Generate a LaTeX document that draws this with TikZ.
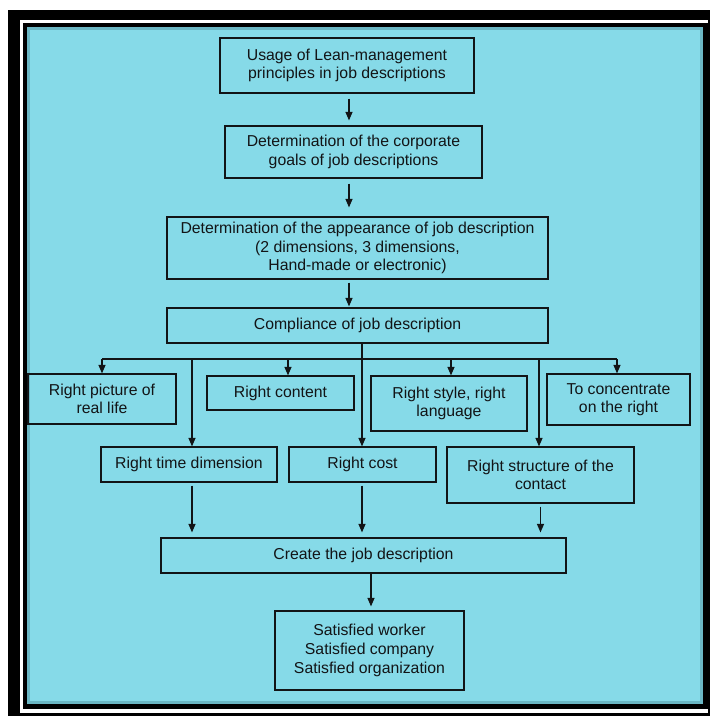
\documentclass[tikz,border=0pt]{standalone}
\usepackage{fontspec}
\setmainfont{Liberation Sans}
\usetikzlibrary{arrows.meta}
\definecolor{bgcyan}{RGB}{134,218,232}
\definecolor{edgecyan}{RGB}{90,160,172}
\definecolor{ink}{RGB}{18,20,22}
\begin{document}
\begin{tikzpicture}[x=1pt,y=-1pt,
  box/.style={draw=ink, line width=1.2pt, align=center, inner sep=0pt,
    font=\fontsize{15.8}{18.6}\selectfont, text=ink},
  arr/.style={draw=ink, line width=1.2pt, -{Triangle[length=8.5pt,width=7pt]}},
  ln/.style={draw=ink, line width=1.2pt}]
\useasboundingbox (0,0) rectangle (710,716);
% frame
\fill[black] (8,10) rectangle (720,730);
\fill[white] (20,20) rectangle (708,713);
\fill[black] (23,23) rectangle (720,709);
\fill[bgcyan] (27,27) rectangle (703,704);
\draw[edgecyan, line width=3pt, opacity=0.6] (28.5,28.5) rectangle (701.5,702.5);
% boxes
\node[box, minimum width=254pt, minimum height=55pt] (b1) at (347,65.5)
  {Usage of Lean-management\\principles in job descriptions};
\node[box, minimum width=257pt, minimum height=52pt] (b2) at (353.5,152)
  {Determination of the corporate\\goals of job descriptions};
\node[box, minimum width=381pt, minimum height=62pt] (b3) at (357.5,248)
  {Determination of the appearance of job description\\(2 dimensions, 3 dimensions,\\Hand-made or electronic)};
\node[box, minimum width=381pt, minimum height=35pt] (b4) at (357.5,325.5)
  {Compliance of job description};
\node[box, minimum width=148pt, minimum height=50pt] (r1) at (102,399)
  {Right picture of\\real life};
\node[box, minimum width=147pt, minimum height=34pt] (r2) at (280.5,393)
  {Right content};
\node[box, minimum width=156pt, minimum height=55pt] (r3) at (449,403.5)
  {Right style, right\\language};
\node[box, minimum width=143pt, minimum height=51pt] (r4) at (618.5,399.5)
  {To concentrate\\on the right};
\node[box, minimum width=176pt, minimum height=35pt] (s1) at (189,464.5)
  {Right time dimension};
\node[box, minimum width=147pt, minimum height=35pt] (s2) at (362.5,464.5)
  {Right cost};
\node[box, minimum width=187pt, minimum height=56pt] (s3) at (540.5,475)
  {Right structure of the\\contact};
\node[box, minimum width=405pt, minimum height=35pt] (c) at (363.5,555.5)
  {Create the job description};
\node[box, minimum width=189pt, minimum height=79pt] (f) at (369.5,650.5)
  {Satisfied worker\\Satisfied company\\Satisfied organization};
% coordinates
\coordinate (xa) at (349,0);
\coordinate (hl) at (102,359);
\coordinate (hr) at (617,359);
\coordinate (h2) at (288,359);
\coordinate (h3) at (451,359);
\coordinate (ht) at (192,359);
\coordinate (hs) at (539,359);
\coordinate (xt) at (362,0);
\coordinate (xc) at (371,0);
% connectors
\draw[arr, shorten <=5pt, shorten >=5pt] (b1.south -| xa) -- (b2.north -| xa);
\draw[arr, shorten <=5pt, shorten >=9pt] (b2.south -| xa) -- (b3.north -| xa);
\draw[arr, shorten <=3pt, shorten >=1pt] (b3.south -| xa) -- (b4.north -| xa);
\draw[ln] (hl) -- (hr);
\draw[arr] (hl) -- (r1.north -| hl);
\draw[arr] (h2) -- (r2.north -| h2);
\draw[arr] (h3) -- (r3.north -| h3);
\draw[arr] (hr) -- (r4.north -| hr);
\draw[arr] (ht) -- (s1.north -| ht);
\draw[arr] (hs) -- (s3.north -| hs);
\draw[arr] (b4.south -| xt) -- (s2.north -| xt);
\draw[arr, shorten <=3pt, shorten >=5pt] (s1.south -| ht) -- (c.north -| ht);
\draw[arr, shorten <=3pt, shorten >=5pt] (s2.south -| xt) -- (c.north -| xt);
\draw[arr, shorten <=3pt, shorten >=5pt] (s3.south) -- (c.north -| s3.south);
\draw[arr, shorten >=4pt] (c.south -| xc) -- (f.north -| xc);
\end{tikzpicture}
\end{document}
